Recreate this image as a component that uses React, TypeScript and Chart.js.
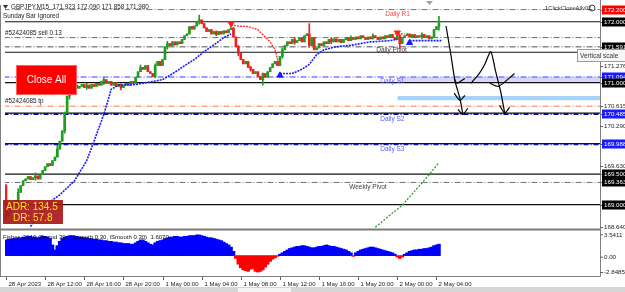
import React, { useEffect, useRef } from 'react';
import { Chart, registerables } from 'chart.js';
Chart.register(...registerables);

const FONT = '"Liberation Sans", Arial, sans-serif';

// ---------- data ----------
const firstOpen = 169.31;
const closes = [
  168.82, 168.87, 168.94, 168.99, 169.07, 169.20, 169.31, 169.39, 169.42, 169.46,
  169.41, 169.44, 169.47, 169.42, 169.49, 169.56, 169.62, 169.67, 169.64, 169.72,
  169.78, 169.91, 170.04, 170.21, 170.50, 170.78, 170.92, 170.89, 170.96, 170.91,
  170.94, 170.97, 170.92, 170.96, 170.91, 170.97, 170.94, 170.99, 170.96, 171.02,
  171.05, 170.99, 171.02, 170.96, 171.00, 170.94, 170.97, 170.92, 170.96, 170.99,
  170.96, 171.02, 170.99, 171.09, 171.18, 171.25, 171.22, 171.28, 171.18, 171.15,
  171.10, 171.28, 171.35, 171.28, 171.38, 171.59, 171.64, 171.61, 171.67, 171.62,
  171.67, 171.64, 171.71, 171.77, 171.80, 171.92, 171.88, 171.93, 172.00, 172.03,
  171.97, 171.90, 171.84, 171.87, 171.80, 171.84, 171.79, 171.84, 171.80, 171.85,
  171.82, 171.87, 171.90, 171.75, 171.59, 171.48, 171.38, 171.31, 171.35, 171.25,
  171.22, 171.15, 171.18, 171.10, 171.05, 171.15, 171.09, 171.18, 171.25, 171.31,
  171.35, 171.28, 171.43, 171.54, 171.61, 171.67, 171.64, 171.71, 171.66, 171.69,
  171.74, 171.67, 171.77, 171.80, 171.61, 171.74, 171.54, 171.57, 171.64, 171.61,
  171.67, 171.64, 171.71, 171.67, 171.72, 171.67, 171.71, 171.66, 171.71, 171.74,
  171.69, 171.74, 171.71, 171.75, 171.72, 171.77, 171.74, 171.71, 171.75, 171.72,
  171.77, 171.74, 171.71, 171.75, 171.72, 171.77, 171.74, 171.79, 171.74, 171.71,
  171.77, 171.64, 171.74, 171.77, 171.80, 171.75, 171.79, 171.74, 171.77, 171.75,
  171.79, 171.74, 171.77, 171.72, 171.75, 171.87, 171.92, 171.98,
];
const wickBars = [0, 5, 12, 21, 24, 26, 33, 40, 47, 55, 61, 66, 79, 86, 95, 100, 105, 113, 118, 124, 133, 141, 150, 161, 170, 177];
const wickHighs = [169.33, 169.26, 169.52, 169.97, 170.52, 170.95, 170.99, 171.08, 170.98, 171.29, 171.31, 171.68, 172.11, 171.85, 171.61, 171.27, 171.16, 171.57, 171.74, 171.97, 171.74, 171.77, 171.80, 171.79, 171.82, 172.09];
const wickLows = [168.74, 169.15, 169.40, 169.86, 170.17, 170.73, 170.89, 170.97, 170.88, 171.18, 171.08, 171.55, 171.96, 171.77, 171.44, 171.19, 170.96, 171.40, 171.63, 171.58, 171.64, 171.69, 171.72, 171.56, 171.72, 171.86];

const fisher = [
  2.2, 2.3, 2.3, 2.4, 2.4, 2.5, 2.5, 2.6, 2.6,
  2.7, 2.7, 2.6, 2.6, 2.5, 2.6, 2.7, 2.7, 2.6, 2.4,
  1.5, 0.8,
  1.4, 2.0, 2.4, 2.6,
  2.7, 2.8, 2.8, 2.7, 2.7, 2.6, 2.6, 2.5, 2.5, 2.4, 2.4, 2.3, 2.3, 2.2, 2.2, 2.1,
  2.1, 2.0, 2.0, 1.9, 1.9, 1.8, 1.8, 1.7, 1.7, 1.7, 1.6, 1.6,
  1.8, 2.0, 2.2, 2.2, 2.0, 1.8, 1.6, 1.5, 1.8, 2.0, 2.1, 2.2,
  2.4, 2.5, 2.6, 2.6, 2.7, 2.7, 2.6, 2.6, 2.7, 2.7, 2.8, 2.8, 2.8, 2.9, 2.9, 2.8, 2.7, 2.6, 2.5, 2.5, 2.4, 2.3, 2.2, 2.1, 1.9, 1.7, 1.5, 1.2,
  0.6, -0.4, -1.2, -1.7, -2.0, -2.1, -2.2, -1.9, -1.8, -2.2, -2.3, -2.2, -2.0, -1.6, -1.2, -0.8, -0.5, -0.3, -0.1, 0.2,
  0.4, 0.6, 0.8, 1.0, 1.1, 1.2, 1.3, 1.3, 1.4, 1.4, 1.3, 1.2, 1.1, 1.1, 1.2, 1.3, 1.3, 1.4,
  1.5, 1.4, 1.3, 1.3, 1.2, 1.1, 1.0, 0.9, 0.8, 0.6, 0.4, -0.1, 0.4, 0.6, 0.8, 0.9, 1.0, 1.1, 1.2, 1.2, 1.1, 1.0, 0.9, 0.8, 0.7, 0.6, 0.5, 0.4, 0.2, -0.2,
  -0.4, -0.2, 0.2, 0.4, 0.6, 0.7, 0.8, 0.8, 0.9, 0.9, 1.0, 1.0, 1.1, 1.2, 1.4, 1.5, 1.6,
];

const timeLabels = [
  '28 Apr 2023', '28 Apr 12:00', '28 Apr 16:00', '28 Apr 20:00', '1 May 00:00', '1 May 04:00',
  '1 May 08:00', '1 May 12:00', '1 May 16:00', '1 May 20:00', '2 May 00:00', '2 May 04:00',
];
const barsPerTimeLabel = 16;

const roundLevels = [172.0, 171.5, 171.0, 170.5, 170.0, 169.5, 169.0];
const dailyR1 = 172.2;
const dailyPivot = 171.591;
const dailyS1 = 171.094;
const dailyS2 = 170.485;
const dailyS3 = 169.988;
const weeklyPivot = 169.363;
const sellPrice = 171.74;
const tpPrice = 170.615;
const s1Zone = [171.094, 171.0];
const tpZone = [170.78, 170.71];
const s1ZoneStartBar = 160;
const tpZoneStartBar = 160;

const trailUpBars1 = [10, 17, 22, 28, 33, 36, 40, 43, 46, 53, 60, 64, 69, 73, 77, 81, 85, 89, 92];
const trailUp1 = [168.64, 169.02, 169.16, 169.39, 169.72, 170.04, 170.48, 170.89, 170.96, 170.97, 171.02, 171.05, 171.17, 171.28, 171.38, 171.51, 171.62, 171.74, 171.80];
const trailDownBars1 = [92, 95, 99, 103, 105, 108, 110, 111, 112];
const trailDown1 = [171.95, 171.93, 171.92, 171.87, 171.79, 171.67, 171.54, 171.38, 171.27];
const trailUpBars2 = [112, 117, 121, 124, 127, 130, 135, 142, 149, 157, 160];
const trailUp2 = [171.15, 171.15, 171.22, 171.30, 171.46, 171.54, 171.59, 171.62, 171.67, 171.69, 171.71];
const trailDownBars2 = [159, 163];
const trailDown2 = [171.80, 171.80];
const trailUpBars3 = [165, 178];
const trailUp3 = [171.69, 171.69];
const weeklyTrendBars = [151, 162, 173, 177];
const weeklyTrend = [168.63, 168.99, 169.49, 169.69];

const drawnLines: number[][][] = [
  [[179.9, 171.93], [182, 171.43], [183.6, 171.02], [185.6, 170.74], [186.8, 170.48]],
  [[183.2, 171.07], [184.4, 170.99], [187.6, 171.07]],
  [[183.2, 170.83], [185.6, 170.71], [187.6, 170.79]],
  [[184.8, 170.56], [186.8, 170.48], [188.8, 170.58]],
  [[190.0, 170.99], [193.3, 171.14], [195.7, 171.30], [198.2, 171.51], [200.2, 171.18], [202.2, 170.86], [203.9, 170.50]],
  [[197.8, 170.99], [201.4, 170.94], [207.9, 171.15]],
  [[201.8, 170.63], [203.9, 170.50], [205.9, 170.60]],
];

const upArrowBars = [112, 165];
const upArrowPrices = [171.12, 171.655];
const downArrowBars = [92, 160];
const downArrowPrices = [171.97, 171.82];

const axisPriceLabels = [172.2, 172.0, 171.591, 171.276, 171.094, 171.0, 170.615, 170.485, 170.29, 169.988, 169.63, 169.5, 169.363, 169.0, 168.64];
const redLabels = [172.2];
const blueLabels = [171.094, 170.485, 169.988];
const blackLabels = [172.0, 171.591, 171.0, 169.5, 169.363, 169.0];
const fisherAxisLabels = ['3.5411', '0.00', '-2.8485'];
const fisherAxisValues = [3.5411, 0, -2.8485];
const panelSplit = 168.6;

// ---------- build ----------
const X_MIN = -0.4, X_MAX = 242.85;
const opens = closes.map((c, i) => (i === 0 ? firstOpen : closes[i - 1]));
const highs = closes.map((c, i) => { const k = wickBars.indexOf(i); return k >= 0 ? Math.max(wickHighs[k], c, opens[i]) : Math.max(c, opens[i]); });
const lows = closes.map((c, i) => { const k = wickBars.indexOf(i); return k >= 0 ? Math.min(wickLows[k], c, opens[i]) : Math.min(c, opens[i]); });
const candleColors = closes.map((c, i) => (c >= opens[i] ? '#1e9e1e' : '#f02020'));

const DASHDOT = [6, 2, 1, 2];
function hline(price: number, color: string, width: number, dash: number[], order: number, from = -1) {
  return {
    type: 'line', data: [{ x: from, y: price }, { x: 250, y: price }],
    borderColor: color, borderWidth: width, borderDash: dash, pointRadius: 0, order, yAxisID: 'y',
  };
}
function band(zone: number[], from: number, color: string) {
  return {
    type: 'line', data: [{ x: from, y: zone[0] }, { x: 250, y: zone[0] }],
    borderWidth: 0, pointRadius: 0, fill: { value: zone[1] }, backgroundColor: color, order: 9, yAxisID: 'y',
  };
}
function pathLine(bars: number[], vals: number[], color: string, dash: number[], width: number) {
  return {
    type: 'line', data: bars.map((b, i) => ({ x: b, y: vals[i] })),
    borderColor: color, borderWidth: width, borderDash: dash, pointRadius: 0, order: 2, yAxisID: 'y',
  };
}

function txt(ctx: CanvasRenderingContext2D, s: string, x: number, y: number, color: string, size: number, align: CanvasTextAlign = 'left') {
  ctx.font = `${size}px ${FONT}`;
  ctx.fillStyle = color;
  ctx.textAlign = align;
  ctx.textBaseline = 'middle';
  ctx.fillText(s, x, y);
}

const overlay = {
  id: 'overlay',
  beforeDraw(chart: any) {
    const c = chart.ctx;
    c.save();
    c.fillStyle = '#ffffff';
    c.fillRect(0, 0, chart.width, chart.height);
    c.restore();
  },
  afterDraw(chart: any) {
    const c: CanvasRenderingContext2D = chart.ctx;
    const xs = chart.scales.x, ys = chart.scales.y, y2 = chart.scales.y2;
    const a = chart.chartArea;
    c.save();
    // panel separator
    const sy = Math.round(ys.getPixelForValue(panelSplit)) + 0.5;
    c.strokeStyle = '#7a7a7a';
    c.lineWidth = 2;
    c.beginPath(); c.moveTo(0, sy); c.lineTo(a.right, sy); c.stroke();
    // frame
    c.strokeStyle = '#808080';
    c.lineWidth = 1;
    c.beginPath();
    c.moveTo(0.5, a.top); c.lineTo(0.5, a.bottom);
    c.stroke();
    // top shift marker
    c.fillStyle = '#a0a0a0';
    c.beginPath(); c.moveTo(426, 1); c.lineTo(433, 1); c.lineTo(429.5, 5); c.closePath(); c.fill();

    // title
    c.fillStyle = '#333';
    c.beginPath(); c.moveTo(3, 5); c.lineTo(8, 5); c.lineTo(5.5, 9); c.closePath(); c.fill();
    txt(c, 'GBPJPY,M15  171.923 172.090 171.858 171.980', 11, 7.5, '#222', 6.3);
    txt(c, 'Sunday Bar Ignored', 3, 16, '#222', 6.3);
    txt(c, '#52424085 sell 0.13', 5, ys.getPixelForValue(sellPrice) - 4, '#222', 6.3);
    txt(c, '#52424085 tp', 5, ys.getPixelForValue(tpPrice) - 5, '#222', 6.3);
    // 1ClickCloseAll
    txt(c, '1ClickCloseAllv02', 545, 8, '#333', 5.8);
    c.strokeStyle = '#444'; c.lineWidth = 1;
    c.beginPath(); c.arc(592, 8, 3, 0, Math.PI * 2); c.stroke();

    // pivot labels
    const lx = xs.getPixelForValue(153);
    txt(c, 'Daily R1', lx + 5, ys.getPixelForValue(dailyR1) + 5, '#ff4040', 6.5);
    txt(c, 'Daily Pivot', lx - 4, ys.getPixelForValue(dailyPivot) + 4, '#444', 6.5);
    txt(c, 'Daily S1', lx, ys.getPixelForValue(dailyS1) + 4, '#5a5aff', 6.5);
    txt(c, 'Daily S2', lx, ys.getPixelForValue(dailyS2) + 5, '#5a5aff', 6.5);
    txt(c, 'Daily S3', lx, ys.getPixelForValue(dailyS3) + 5, '#5a5aff', 6.5);
    txt(c, 'Weekly Pivot', lx - 31, ys.getPixelForValue(weeklyPivot) + 5, '#444', 6.5);

    // Close All button
    c.fillStyle = '#ff0000';
    c.fillRect(16, 65, 61, 30);
    c.strokeStyle = '#ff6060'; c.lineWidth = 1;
    c.strokeRect(16.5, 65.5, 60, 29);
    txt(c, 'Close All', 46.5, 80.5, '#ffffff', 10, 'center');

    // ADR box
    c.fillStyle = 'rgba(168,24,24,0.92)';
    c.fillRect(3, 200, 60, 24);
    txt(c, 'ADR: 134.5', 6, 207.5, '#ffe020', 10);
    txt(c, 'DR: 57.8', 13, 218, '#ffe020', 10);

    // Fisher label
    txt(c, 'Fisher_2010 (Period 30, pSmooth 0.30, iSmooth 0.30)  1.6070', 3, sy + 7.5, '#111', 6);

    // right axis
    c.fillStyle = '#ffffff';
    c.fillRect(a.right + 1, 0, chart.width - a.right - 1, a.bottom);
    c.strokeStyle = '#808080'; c.lineWidth = 1;
    c.beginPath(); c.moveTo(a.right + 0.5, 0); c.lineTo(a.right + 0.5, a.bottom + 0.5); c.stroke();
    axisPriceLabels.forEach((v) => {
      const py = Math.round(ys.getPixelForValue(v));
      const s = v.toFixed(3);
      let bg: string | null = null;
      if (redLabels.includes(v)) bg = '#ff0000';
      else if (blueLabels.includes(v)) bg = '#1a1aff';
      else if (blackLabels.includes(v)) bg = '#000000';
      c.strokeStyle = '#606060';
      c.beginPath(); c.moveTo(a.right, py + 0.5); c.lineTo(a.right + 3, py + 0.5); c.stroke();
      if (bg) {
        c.fillStyle = bg;
        c.fillRect(a.right + 2, py - 4.5, 23, 9);
        txt(c, s, a.right + 4, py + 0.5, '#ffffff', 6.2);
      } else {
        txt(c, s, a.right + 4, py + 0.5, '#222', 6.2);
      }
    });
    const fOff = [4, 1, -4];
    fisherAxisValues.forEach((v, k) => {
      const py = y2.getPixelForValue(v) + fOff[k];
      c.strokeStyle = '#606060';
      c.beginPath(); c.moveTo(a.right, py + 0.5); c.lineTo(a.right + 3, py + 0.5); c.stroke();
      txt(c, fisherAxisLabels[k], a.right + 4, py + 0.5, '#222', 6.2);
    });

    // Vertical scale tooltip
    c.fillStyle = '#f7f7f7';
    c.fillRect(577, 49, 48, 13);
    c.strokeStyle = '#9a9a9a';
    c.strokeRect(577.5, 49.5, 48, 12);
    txt(c, 'Vertical scale', 580, 56, '#333', 6.5);

    // time axis
    c.fillStyle = '#ffffff';
    c.fillRect(0, a.bottom + 1, chart.width, chart.height - a.bottom - 1);
    c.strokeStyle = '#606060';
    timeLabels.forEach((lab, k) => {
      const px = Math.round(xs.getPixelForValue(k * barsPerTimeLabel)) + 0.5;
      c.beginPath(); c.moveTo(px, a.bottom); c.lineTo(px, a.bottom + 4); c.stroke();
      txt(c, lab, px + 2, a.bottom + 8.5, '#222', 6);
    });
    c.strokeStyle = '#808080';
    c.beginPath(); c.moveTo(0, a.bottom + 0.5); c.lineTo(a.right + 0.5, a.bottom + 0.5); c.stroke();
    // bottom tab strip
    c.fillStyle = '#d6d6d6';
    c.fillRect(0, 287, chart.width, 5);
    c.fillStyle = '#f4f4f4';
    c.fillRect(238, 288, 53, 4);
    c.restore();
  },
};

export default function App() {
  const ref = useRef<HTMLCanvasElement>(null);
  useEffect(() => {
    document.body.style.margin = '0';
    const datasets: any[] = [];
    datasets.push(band(s1Zone, s1ZoneStartBar, 'rgba(186,186,248,0.6)'));
    datasets.push(band(tpZone, tpZoneStartBar, '#a6d2f7'));
    roundLevels.forEach((p) => datasets.push(hline(p, '#111111', 1.2, [], 8)));
    datasets.push(hline(dailyR1, '#ff3a3a', 1, DASHDOT, 7));
    datasets.push(hline(sellPrice, '#22a022', 1, DASHDOT, 7));
    datasets.push(hline(dailyPivot, '#8a8a8a', 1.6, DASHDOT, 7));
    datasets.push(hline(dailyS1, '#7a7aff', 1.6, DASHDOT, 7));
    datasets.push(hline(tpPrice, '#ff7a45', 1, DASHDOT, 7));
    datasets.push(hline(dailyS2, '#00008a', 1.6, [5, 2, 1, 2], 7));
    datasets.push(hline(dailyS3, '#1010c0', 1.6, [5, 2, 1, 2], 7));
    datasets.push(hline(weeklyPivot, '#707070', 1, DASHDOT, 7));
    datasets.push({
      type: 'bar', yAxisID: 'y2', order: 6, grouped: false, barThickness: 3,
      data: fisher.map((v, i) => ({ x: i, y: v })),
      backgroundColor: fisher.map((v) => (v >= 0 ? '#0000ff' : '#ff0000')),
      borderWidth: 0,
    });
    datasets.push({
      type: 'bar', yAxisID: 'y', order: 4, grouped: false, barThickness: 1, minBarLength: 1,
      data: closes.map((c, i) => ({ x: i, y: [lows[i], highs[i]] })),
      backgroundColor: candleColors, borderWidth: 0,
    });
    datasets.push({
      type: 'bar', yAxisID: 'y', order: 3, grouped: false, barThickness: 2, minBarLength: 1,
      data: closes.map((c, i) => ({ x: i, y: [opens[i], c] })),
      backgroundColor: candleColors, borderWidth: 0,
    });
    datasets.push(pathLine(trailUpBars1, trailUp1, '#1a1aff', [2, 1], 1.6));
    datasets.push(pathLine(trailDownBars1, trailDown1, '#ff2a2a', [2, 1], 1.3));
    datasets.push(pathLine(trailUpBars2, trailUp2, '#1a1aff', [2, 1], 1.6));
    datasets.push(pathLine(trailDownBars2, trailDown2, '#ff2a2a', [2, 1], 1.3));
    datasets.push(pathLine(trailUpBars3, trailUp3, '#1a1aff', [2, 1], 1.6));
    datasets.push(pathLine(weeklyTrendBars, weeklyTrend, '#2e9e2e', [2, 1.5], 1.3));
    drawnLines.forEach((pts) => datasets.push({
      type: 'line', yAxisID: 'y', order: 1, data: pts.map((p) => ({ x: p[0], y: p[1] })),
      borderColor: '#000000', borderWidth: 1.2, pointRadius: 0, tension: 0.2,
    }));
    datasets.push({
      type: 'scatter', yAxisID: 'y', order: 0, data: upArrowBars.map((b, i) => ({ x: b, y: upArrowPrices[i] })),
      pointStyle: 'triangle', pointRadius: 3.5, backgroundColor: '#1a1aff', borderColor: '#1a1aff', borderWidth: 1,
    });
    datasets.push({
      type: 'scatter', yAxisID: 'y', order: 0, data: downArrowBars.map((b, i) => ({ x: b, y: downArrowPrices[i] })),
      pointStyle: 'triangle', rotation: 180, pointRadius: 3.5, backgroundColor: '#ff2020', borderColor: '#ff2020', borderWidth: 1,
    });

    const chart = new Chart(ref.current as HTMLCanvasElement, {
      type: 'bar',
      data: { datasets },
      options: {
        animation: false,
        responsive: false,
        maintainAspectRatio: false,
        events: [],
        layout: { padding: { left: 1, right: 25, top: 3, bottom: 16 } },
        plugins: { legend: { display: false }, tooltip: { enabled: false } },
        scales: {
          x: { type: 'linear', display: false, min: X_MIN, max: X_MAX, offset: false },
          y: { type: 'linear', display: false, min: 167.828, max: 172.275 },
          y2: { type: 'linear', display: false, min: -2.8485, max: 35.07 },
        },
      } as any,
      plugins: [overlay],
    } as any);
    return () => chart.destroy();
  }, []);
  return (
    <div style={{ width: 625, height: 292 }}>
      <canvas ref={ref} width={625} height={292} style={{ display: 'block' }} />
    </div>
  );
}
